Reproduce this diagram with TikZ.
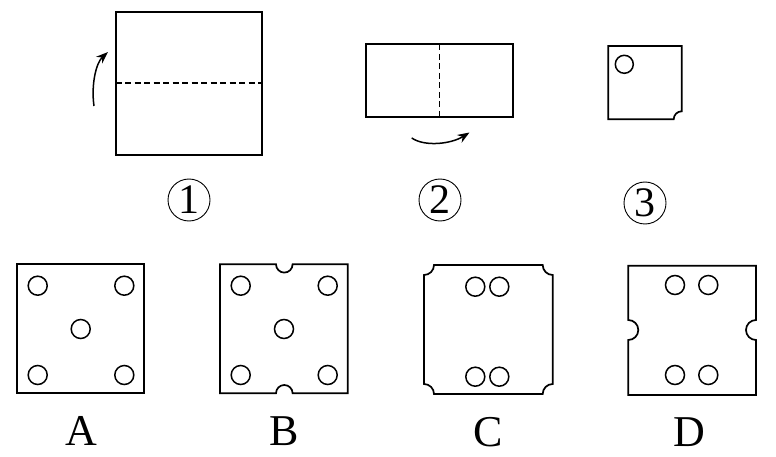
\documentclass[tikz,border=0pt]{standalone}
\usepackage{fontspec}
\setmainfont{Liberation Serif}
\usetikzlibrary{arrows.meta}

\begin{document}
\begin{tikzpicture}[x=1pt, y=-1pt,
  paper/.style={line width=1.7pt, line join=miter},
  fold/.style={line width=1.6pt, dash pattern=on 6pt off 3.5pt},
  hole/.style={line width=1.5pt},
  turn/.style={-{Stealth[length=12pt,width=9pt]}, line width=1.5pt},
  stepnum/.style={circle, draw, line width=0.9pt, minimum size=42pt, inner sep=0pt, font=\fontsize{42}{42}\selectfont},
  choice/.style={font=\fontsize{44}{44}\selectfont}
]
\useasboundingbox (0,0) rectangle (776,457);

% step 1
\draw[paper] (115.7,11.7) rectangle (262.3,155);
\draw[fold] (115.7,83) -- (262.3,83);
\coordinate (upfrom) at (94,106);
\coordinate (upto) at (108,52);
\draw[turn] (upfrom) .. controls (91,85) and (96,63) .. (upto);
\node[stepnum] (one) at (189,200) {1};

% step 2
\draw[paper] (365.7,44.3) rectangle (512.7,116.7);
\draw[fold] (439.3,44.3) -- (439.3,116.7);
\coordinate (rightfrom) at (411.7,138);
\coordinate (rightto) at (469.5,132.5);
\draw[turn] (rightfrom) .. controls (425,147) and (451,144) .. (rightto);
\node[stepnum] (two) at (440,200) {2};

% step 3
\draw[paper] (608.3,46) -- (681.7,46) -- (681.7,111.3)
  arc[start angle=270, end angle=180, radius=8] -- (608.3,119.3) -- cycle;
\draw[hole] (624.3,64.3) circle[radius=9];
\node[stepnum] (three) at (645,203) {3};

% A
\draw[paper] (17.3,264.3) rectangle (144,393.3);
\foreach \x/\y in {37.7/285.7, 124.3/285.7, 80.7/329, 37.7/375, 124.3/375}
  \draw[hole] (\x,\y) circle[radius=9.5];
\node[choice] (optA) at (81.7,431) {A};

% B
\draw[paper] (220,264.3) -- (276,264.3) arc[start angle=180, end angle=0, radius=8.3]
  -- (347.7,264.3) -- (347.7,393.3) -- (292.6,393.3)
  arc[start angle=0, end angle=-180, radius=8.3] -- (220,393.3) -- cycle;
\foreach \x/\y in {240.7/285.7, 327.7/285.7, 284/329, 240.7/375, 327.7/375}
  \draw[hole] (\x,\y) circle[radius=9.5];
\node[choice] (optB) at (284,431) {B};

% C
\draw[paper] (434,265) -- (542.7,265) arc[start angle=180, end angle=90, radius=10]
  -- (552.7,384) arc[start angle=270, end angle=180, radius=10]
  -- (434,394) arc[start angle=0, end angle=-90, radius=10]
  -- (424,275) arc[start angle=90, end angle=0, radius=10] -- cycle;
\foreach \x/\y in {475.3/286.7, 499.3/286.7, 475.3/376.7, 499.3/376.7}
  \draw[hole] (\x,\y) circle[radius=9.5];
\node[choice] (optC) at (488.3,432) {C};

% D
\draw[paper] (628.3,265.7) -- (756,265.7) -- (756,320)
  arc[start angle=270, end angle=90, radius=10] -- (756,395) -- (628.3,395) -- (628.3,340)
  arc[start angle=90, end angle=-90, radius=10] -- cycle;
\foreach \x/\y in {675/285, 708.3/285, 675/375, 708.3/375}
  \draw[hole] (\x,\y) circle[radius=9.5];
\node[choice] (optD) at (689.3,432) {D};

\end{tikzpicture}
\end{document}
